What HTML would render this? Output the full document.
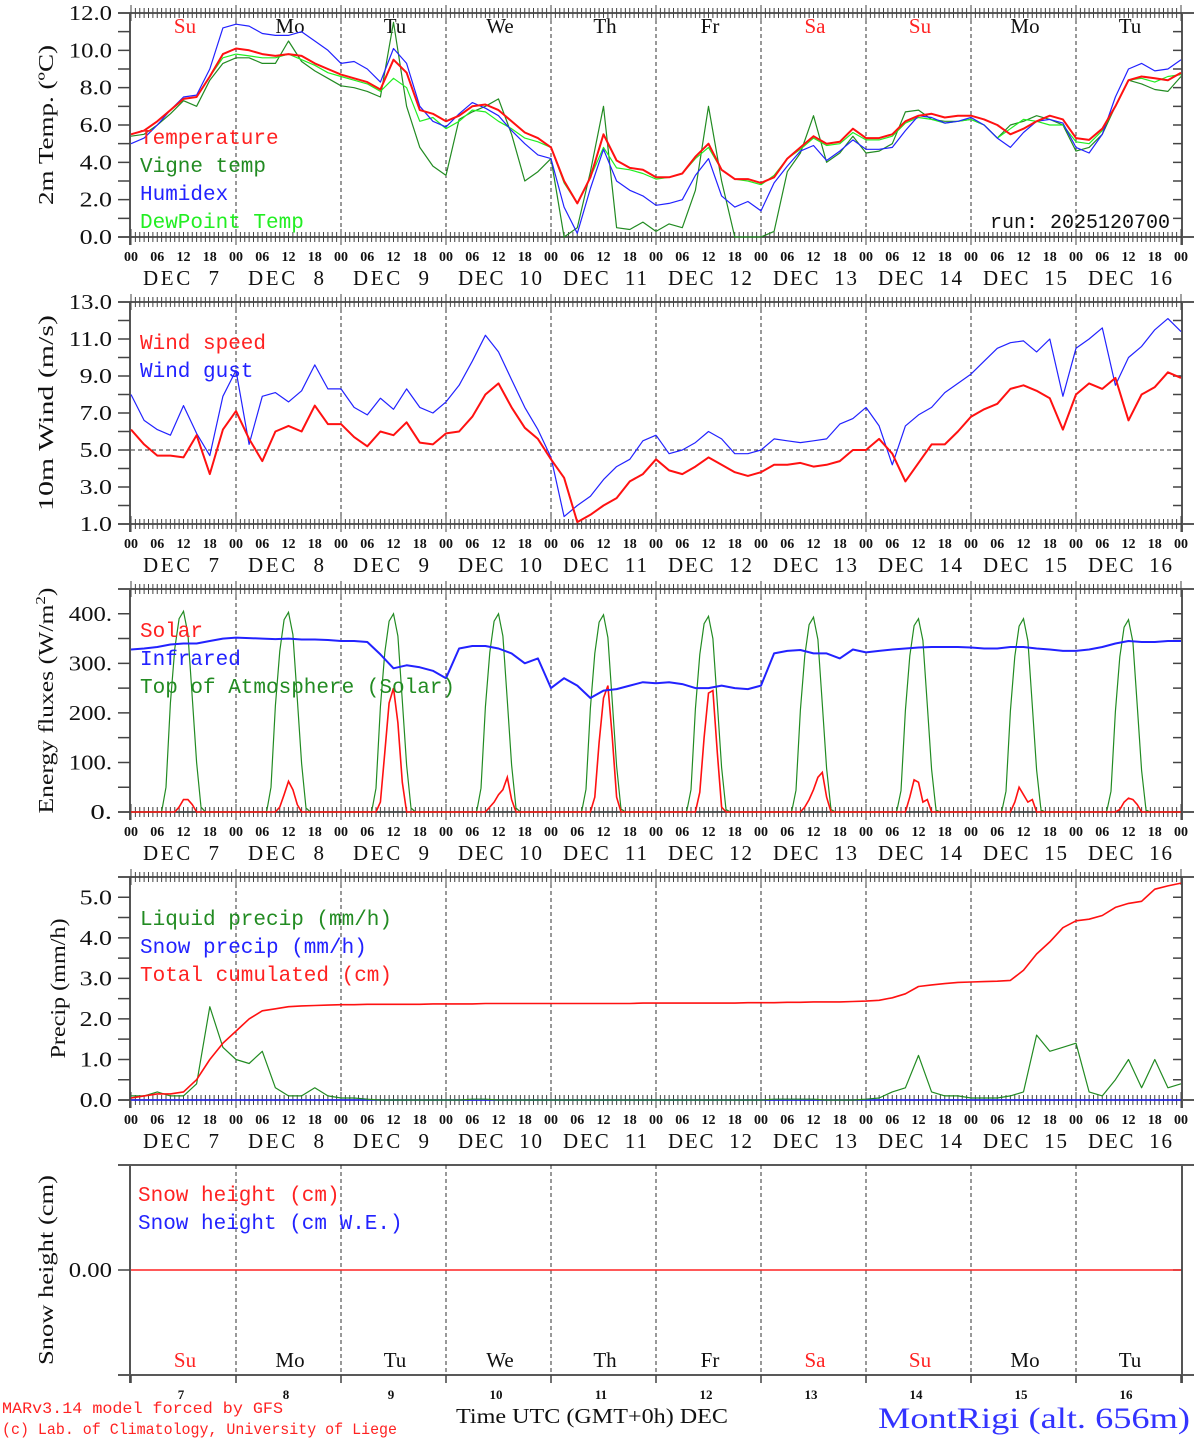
<!DOCTYPE html>
<html><head><meta charset="utf-8"><style>
html,body{margin:0;padding:0;background:#fff;width:1194px;height:1440px;overflow:hidden}
svg{display:block}
text{white-space:pre}
</style></head><body>
<svg id="chart" width="1194" height="1440" viewBox="0 0 1194 1440" xmlns="http://www.w3.org/2000/svg"></svg>
<script>
// ---------- DATA (3-hourly, Dec 7 00UTC .. Dec 17 00UTC) ----------
const dayNums = [7,8,9,10,11,12,13,14,15,16];
const dayNames = ["Su","Mo","Tu","We","Th","Fr","Sa","Su","Mo","Tu"];
const dayRed = [true,false,false,false,false,false,true,true,false,false];
const hourTicks = ["00","06","12","18"];

const tempVals = [5.5,5.7,6.2,6.8,7.4,7.5,8.6,9.8, 10.1,10.0,9.8,9.7,9.8,9.7,9.3,9.0, 8.7,8.5,8.3,7.9,9.5,8.8,6.8,6.6,
 6.2,6.5,7.0,7.1,6.8,6.2,5.6,5.3, 4.8,3.0,1.8,3.2,5.5,4.1,3.7,3.6, 3.2,3.2,3.4,4.3,5.0,3.6,3.1,3.1,
 2.9,3.2,4.2,4.8,5.4,5.0,5.1,5.8, 5.3,5.3,5.5,6.2,6.5,6.6,6.4,6.5, 6.5,6.3,6.0,5.5,5.8,6.2,6.5,6.3,
 5.3,5.2,5.8,7.0,8.4,8.6,8.5,8.4, 8.8];
const humidexVals = [5.0,5.3,6.0,6.8,7.5,7.6,9.0,11.2, 11.4,11.3,10.9,10.8,10.8,11.0,10.5,10.0, 9.3,9.4,9.0,8.3,10.1,9.3,7.0,6.2,
 5.9,6.6,7.2,6.9,6.5,5.7,5.0,4.4, 4.2,1.6,0.2,2.6,4.7,3.0,2.5,2.2, 1.7,1.8,2.0,3.3,4.2,2.2,1.6,1.9,
 1.4,2.9,3.8,4.6,4.9,4.1,4.6,5.2, 4.7,4.7,4.8,5.7,6.5,6.4,6.1,6.2, 6.4,6.0,5.3,4.8,5.6,6.2,6.3,6.1,
 4.8,4.5,5.5,7.5,9.0,9.3,8.9,9.0, 9.5];
const vigneVals = [5.4,5.5,6.0,6.6,7.3,7.0,8.4,9.3, 9.6,9.6,9.3,9.3,10.5,9.4,8.9,8.5, 8.1,8.0,7.8,7.5,11.5,7.0,4.8,3.8,
 3.3,6.3,6.7,7.0,7.4,5.5,3.0,3.5, 4.2,0.0,0.5,3.5,7.0,0.5,0.4,0.8, 0.3,0.7,0.5,2.5,7.0,3.0,0.0,0.0,
 0.0,0.3,3.5,4.5,6.5,4.0,4.5,5.4, 4.5,4.6,5.0,6.7,6.8,6.3,6.2,6.2, 6.3,6.0,5.3,6.0,6.2,6.5,6.3,6.0,
 4.6,4.8,5.5,7.0,8.4,8.2,7.9,7.8, 8.6];
const dewVals = [5.5,5.7,6.2,6.8,7.4,7.5,8.6,9.6, 9.8,9.7,9.6,9.6,9.8,9.5,9.2,8.8, 8.6,8.4,8.2,7.8,8.5,8.0,6.2,6.4,
 5.8,6.2,6.8,6.7,6.2,5.8,5.3,5.1, 4.8,2.9,1.8,3.2,4.8,3.7,3.6,3.4, 3.1,3.2,3.4,4.2,4.8,3.6,3.1,3.0,
 2.8,3.3,4.2,4.7,5.3,4.9,5.0,5.6, 5.2,5.2,5.4,6.1,6.4,6.3,6.1,6.2, 6.3,6.0,5.3,5.8,6.3,6.2,6.0,6.0,
 5.1,5.0,5.7,7.0,8.4,8.5,8.3,8.6, 8.7];

const windVals = [6.1,5.3,4.7,4.7,4.6,5.8,3.7,6.1, 7.1,5.6,4.4,6.0,6.3,6.0,7.4,6.4, 6.4,5.7,5.2,6.0,5.8,6.5,5.4,5.3,
 5.9,6.0,6.8,8.0,8.6,7.3,6.2,5.6, 4.5,3.5,1.1,1.5,2.0,2.4,3.3,3.7, 4.5,3.9,3.7,4.1,4.6,4.2,3.8,3.6,
 3.8,4.2,4.2,4.3,4.1,4.2,4.4,5.0, 5.0,5.6,4.8,3.3,4.3,5.3,5.3,6.0, 6.8,7.2,7.5,8.3,8.5,8.2,7.8,6.1,
 8.0,8.6,8.3,8.9,6.6,8.0,8.4,9.2, 8.9];
const gustVals = [8.0,6.6,6.1,5.8,7.4,5.9,4.7,7.9, 9.3,5.3,7.9,8.1,7.6,8.2,9.6,8.3, 8.3,7.3,6.9,7.8,7.2,8.3,7.3,7.0,
 7.6,8.5,9.8,11.2,10.3,8.8,7.3,6.1, 4.6,1.4,2.0,2.5,3.4,4.1,4.5,5.5, 5.8,4.8,5.0,5.4,6.0,5.6,4.8,4.8,
 5.0,5.6,5.5,5.4,5.5,5.6,6.4,6.7, 7.3,6.3,4.2,6.3,6.9,7.3,8.1,8.6, 9.1,9.8,10.5,10.8,10.9,10.3,11.0,7.9,
 10.5,11.0,11.6,8.5,10.0,10.6,11.5,12.1, 11.4];

const irVals = [328,330,333,338,340,340,345,350, 352,351,350,349,350,348,348,347, 345,345,343,318,290,296,292,285,
 270,330,335,335,330,320,300,310, 250,270,255,230,245,248,255,262, 260,262,258,250,250,255,250,248,
 255,320,325,327,320,320,310,328, 322,325,328,330,332,333,333,333, 332,330,330,333,333,330,328,325,
 325,328,333,340,345,343,343,345, 345];
// hourly values 07..17 UTC for each day
const toaDaily = [
 [0,50,220,330,390,405,360,230,100,10,0],[0,50,215,325,388,403,358,228,98,8,0],
 [0,48,212,322,385,400,355,225,95,8,0],[0,48,212,322,385,400,355,225,95,8,0],
 [0,46,210,320,383,398,352,222,93,6,0],[0,45,208,318,380,395,350,220,90,5,0],
 [0,44,206,316,378,393,348,218,88,5,0],[0,43,205,315,376,390,346,216,86,4,0],
 [0,42,204,314,375,390,345,215,85,4,0],[0,42,203,313,373,388,343,213,84,4,0]];
const solarDaily = [
 [0,0,0,0,10,25,25,15,0,0,0],[0,0,0,10,35,62,45,15,0,0,0],
 [0,0,20,120,220,250,180,60,0,0,0],[0,0,0,10,20,35,45,70,25,0,0],
 [0,0,0,30,140,230,255,150,30,0,0],[0,0,0,40,150,240,245,120,10,0,0],
 [0,0,0,10,25,45,70,80,30,0,0],[0,0,0,30,65,60,20,25,0,0,0],
 [0,0,0,20,50,35,20,25,0,0,0],[0,0,0,5,20,28,25,15,0,0,0]];

const liquidVals = [0.1,0.1,0.2,0.1,0.1,0.4,2.3,1.3, 1.0,0.9,1.2,0.3,0.1,0.1,0.3,0.1, 0.05,0.05,0.02,0,0,0,0,0,
 0,0,0.02,0.02,0,0,0,0, 0,0,0,0,0,0,0,0, 0,0,0,0,0,0,0,0,
 0,0.02,0.02,0.02,0.02,0,0,0, 0.02,0.05,0.2,0.3,1.1,0.2,0.1,0.1, 0.05,0.05,0.05,0.1,0.2,1.6,1.2,1.3,
 1.4,0.2,0.1,0.5,1.0,0.3,1.0,0.3, 0.4];
const snowPrecipVals = new Array(81).fill(0);
const cumulVals = [0.05,0.1,0.15,0.15,0.2,0.5,1.0,1.4, 1.7,2.0,2.2,2.25,2.3,2.32,2.33,2.34, 2.35,2.35,2.36,2.36,2.36,2.36,2.36,2.37,
 2.37,2.37,2.37,2.38,2.38,2.38,2.38,2.38, 2.38,2.38,2.38,2.38,2.38,2.38,2.38,2.39, 2.39,2.39,2.39,2.39,2.39,2.39,2.39,2.40,
 2.40,2.40,2.41,2.41,2.42,2.42,2.42,2.43, 2.44,2.46,2.52,2.62,2.8,2.84,2.87,2.9, 2.91,2.92,2.93,2.95,3.2,3.6,3.9,4.25,
 4.42,4.46,4.55,4.75,4.85,4.9,5.2,5.28, 5.35];
const snowHeightVals = new Array(81).fill(0);

// ---------- LAYOUT ----------
const X0 = 131, X1 = 1181, DAYW = 105;
const svg = document.getElementById('chart');
const NS = 'http://www.w3.org/2000/svg';
function el(tag, attrs, parent){ const e=document.createElementNS(NS,tag); for(const k in attrs) e.setAttribute(k,attrs[k]); (parent||svg).appendChild(e); return e; }
function xAtHour(h){ return X0 + h*DAYW/24; }
const SERIF = '"Liberation Serif", serif';
const MONO = '"Liberation Mono", monospace';

function panel(name, top, bot, vmin, vmax){
  const g = el('g', {});
  
  
  const y = v => bot - (v - vmin)/(vmax - vmin)*(bot - top);
  return {g, top, bot, y};
}
function frame(p, opts){
  const g=p.g;
  for(let d=1; d<10; d++){
    const x=X0+d*DAYW;
    const l=el('line',{x1:x,y1:p.top,x2:x,y2:p.bot,stroke:'#333','stroke-width':1,'stroke-dasharray':'4,3'},g);
    
    
  }
  el('line',{x1:118,y1:p.top,x2:1194,y2:p.top,stroke:'#222','stroke-width':1.5},g);
  el('line',{x1:118,y1:p.bot,x2:1194,y2:p.bot,stroke:'#222','stroke-width':1.5},g);
  el('line',{x1:X0-1,y1:p.top,x2:X0-1,y2:p.bot+8,stroke:'#555','stroke-width':2},g);
  el('line',{x1:X1+1,y1:p.top,x2:X1+1,y2:p.bot+8,stroke:'#555','stroke-width':2},g);
  if(opts.hourly){
    let d='';
    for(let h=0; h<=240; h++){
      const x=xAtHour(h); const big = h%24===0;
      d+=`M${x},${p.top}v${big?-8:-5}M${x},${p.top}v${big?8:5}M${x},${p.bot}v${big?8:5}M${x},${p.bot}v${big?-8:-5}`;
    }
    el('path',{d:d,stroke:'#444','stroke-width':1,fill:'none'},g);
  } else {
    let d='';
    for(let k=0;k<=10;k++){ const x=X0+k*DAYW; d+=`M${x},${p.bot}v8`; }
    el('path',{d:d,stroke:'#444','stroke-width':1.5,fill:'none'},g);
  }
  let d='';
  opts.minor.forEach(v=>{ const yy=p.y(v); d+=`M118,${yy}h12M${X1-8},${yy}h9`; });
  el('path',{d:d,stroke:'#444','stroke-width':1.5,fill:'none'},g);
  opts.major.forEach((v,i)=>{
    const s=opts.labels[i];
    const t=el('text',{x:112,y:p.y(v)+7,'text-anchor':'end','font-family':SERIF,'font-size':21,fill:'#111',textLength:(s.length*10.8).toFixed(1),lengthAdjust:'spacingAndGlyphs'},g);
    t.textContent=s;
    
    
  });
  const cy=(p.top+p.bot)/2;
  const tt=el('text',{x:0,y:0,transform:`translate(${opts.titleX||53},${cy}) rotate(-90)`,'text-anchor':'middle','font-family':SERIF,'font-size':21,fill:'#111',textLength:opts.titleLen,lengthAdjust:'spacingAndGlyphs'},g);
  tt.innerHTML=opts.title;
  
  
  if(opts.hourly){
    for(let dd=0; dd<=10; dd++){
      for(let k=0;k<4;k++){
        if(dd===10 && k>0) break;
        const x=xAtHour(dd*24+k*6);
        const t=el('text',{x:x,y:p.bot+24,'text-anchor':'middle','font-family':SERIF,'font-size':14,'font-weight':'bold',fill:'#111'},g);
        t.textContent=hourTicks[k];
        
        
      }
    }
    dayNums.forEach((n,i)=>{
      const s='DEC  '+n;
      const t=el('text',{x:X0+i*DAYW+12,y:p.bot+48,'font-family':SERIF,'font-size':21,fill:'#111',textLength:n>9?84:76,lengthAdjust:'spacing'},g);
      t.textContent=s;
      
      
    });
  }
}
function line(p, vals, color, w, name){
  const pts = vals.map((v,i)=>`${xAtHour(i*3).toFixed(1)},${p.y(v).toFixed(1)}`).join(' ');
  const l=el('polyline',{points:pts,fill:'none',stroke:color,'stroke-width':w,'stroke-linejoin':'round'},p.g);
  
  
}
function dailyLine(p, daily, color, w, name){
  const pts=[];
  pts.push(`${X0},${p.y(0)}`);
  daily.forEach((arr,d)=>{ arr.forEach((v,k)=>{ pts.push(`${xAtHour(d*24+7+k).toFixed(1)},${p.y(v).toFixed(1)}`); }); });
  pts.push(`${X1},${p.y(0)}`);
  const l=el('polyline',{points:pts.join(' '),fill:'none',stroke:color,'stroke-width':w},p.g);
  
  
}
function legend(p, x, y0, items){
  items.forEach((it,i)=>{
    const t=el('text',{x:x,y:y0+i*28,'font-family':MONO,'font-size':21,fill:it[1],textLength:(it[0].length*12.6).toFixed(1),lengthAdjust:'spacingAndGlyphs'},p.g);
    t.textContent=it[0];
    
    
  });
}
function dayLabels(p, y){
  dayNames.forEach((n,i)=>{
    const t=el('text',{x:X0+i*DAYW+54,y:y,'text-anchor':'middle','font-family':SERIF,'font-size':21,fill:dayRed[i]?'#f22':'#111'},p.g);
    t.textContent=n;
    
    
  });
}

// Panel 1: temperature
const p1 = panel('temperature-panel', 13, 237, 0, 12);
frame(p1,{hourly:true, minor:[0,1,2,3,4,5,6,7,8,9,10,11,12], major:[0,2,4,6,8,10,12], labels:['0.0','2.0','4.0','6.0','8.0','10.0','12.0'], title:'2m Temp. (ºC)', titleLen:160});
dayLabels(p1, 33);
line(p1, vigneVals, '#228b22', 1.2, 'vigne-temp-line');
line(p1, dewVals, '#22ee22', 1.2, 'dewpoint-line');
line(p1, humidexVals, '#2222ff', 1.2, 'humidex-line');
line(p1, tempVals, '#ff1111', 2, 'temperature-line');
legend(p1, 140, 144, [['Temperature','#ff2222'],['Vigne temp','#228b22'],['Humidex','#2222ff'],['DewPoint Temp','#22ee22']]);
{ const t=el('text',{x:1170,y:228,'text-anchor':'end','font-family':MONO,'font-size':20,fill:'#111',textLength:180,lengthAdjust:'spacingAndGlyphs'},p1.g); t.textContent='run: 2025120700';
    }

// Panel 2: wind
const p2 = panel('wind-panel', 302, 524, 1, 13);
frame(p2,{hourly:true, minor:[1,2,3,4,5,6,7,8,9,10,11,12,13], major:[1,3,5,7,9,11,13], labels:['1.0','3.0','5.0','7.0','9.0','11.0','13.0'], title:'10m Wind (m/s)', titleLen:196});
{ const l=el('line',{x1:X0,y1:p2.y(5),x2:X1,y2:p2.y(5),stroke:'#333','stroke-dasharray':'4,3'},p2.g);
    }
line(p2, gustVals, '#2222ff', 1.2, 'wind-gust-line');
line(p2, windVals, '#ff1111', 2, 'wind-speed-line');
legend(p2, 140, 349, [['Wind speed','#ff2222'],['Wind gust','#2222ff']]);

// Panel 3: energy
const p3 = panel('energy-panel', 589, 812, 0, 450);
frame(p3,{hourly:true, minor:[0,50,100,150,200,250,300,350,400], major:[0,100,200,300,400], labels:['0.','100.','200.','300.','400.'], title:'Energy fluxes (W/m<tspan dy="-8" font-size="14">2</tspan><tspan dy="8">)</tspan>', titleLen:226});
dailyLine(p3, toaDaily, '#228b22', 1.2, 'toa-solar-line');
dailyLine(p3, solarDaily, '#ff1111', 1.6, 'solar-line');
line(p3, irVals, '#2222ff', 2, 'infrared-line');
legend(p3, 140, 637, [['Solar','#ff2222'],['Infrared','#2222ff'],['Top of Atmosphere (Solar)','#228b22']]);

// Panel 4: precip
const p4 = panel('precip-panel', 877, 1100, 0, 5.5);
frame(p4,{hourly:true, minor:[0,0.5,1,1.5,2,2.5,3,3.5,4,4.5,5,5.5], major:[0,1,2,3,4,5], labels:['0.0','1.0','2.0','3.0','4.0','5.0'], title:'Precip (mm/h)', titleX:65, titleLen:140});
line(p4, snowPrecipVals, '#2222ff', 1.6, 'snow-precip-line');
line(p4, liquidVals, '#228b22', 1.2, 'liquid-precip-line');
line(p4, cumulVals, '#ff1111', 1.6, 'cumulated-precip-line');
legend(p4, 140, 925, [['Liquid precip (mm/h)','#228b22'],['Snow precip (mm/h)','#2222ff'],['Total cumulated (cm)','#ff2222']]);

// Panel 5: snow
const p5 = panel('snow-panel', 1165, 1375, -1, 1);
frame(p5,{hourly:false, minor:[0], major:[0], labels:['0.00'], title:'Snow height (cm)', titleLen:190});
line(p5, snowHeightVals, '#ff2222', 1.6, 'snow-height-line');
legend(p5, 138, 1201, [['Snow height (cm)','#ff2222'],['Snow height (cm W.E.)','#2222ff']]);
dayLabels(p5, 1367);
dayNums.forEach((n,i)=>{
  const t=el('text',{x:X0+i*DAYW+50,y:1399,'text-anchor':'middle','font-family':SERIF,'font-size':13,'font-weight':'bold',fill:'#111'},p5.g);
  t.textContent=n;
  
  
});

// footer
{ let t=el('text',{x:2,y:1413,'font-family':MONO,'font-size':16,fill:'#ff2222',textLength:281,lengthAdjust:'spacingAndGlyphs'}); t.textContent='MARv3.14 model forced by GFS';
   
  t=el('text',{x:2,y:1434,'font-family':MONO,'font-size':16,fill:'#ff2222',textLength:395,lengthAdjust:'spacingAndGlyphs'}); t.textContent='(c) Lab. of Climatology, University of Liege';
   
  t=el('text',{x:456,y:1423,'font-family':SERIF,'font-size':21,fill:'#111',textLength:272,lengthAdjust:'spacingAndGlyphs'}); t.textContent='Time UTC (GMT+0h) DEC';
   
  t=el('text',{x:878,y:1428,'font-family':SERIF,'font-size':30,fill:'#3333ff',textLength:312,lengthAdjust:'spacingAndGlyphs'}); t.textContent='MontRigi (alt. 656m)';
    }
</script>
</body></html>
